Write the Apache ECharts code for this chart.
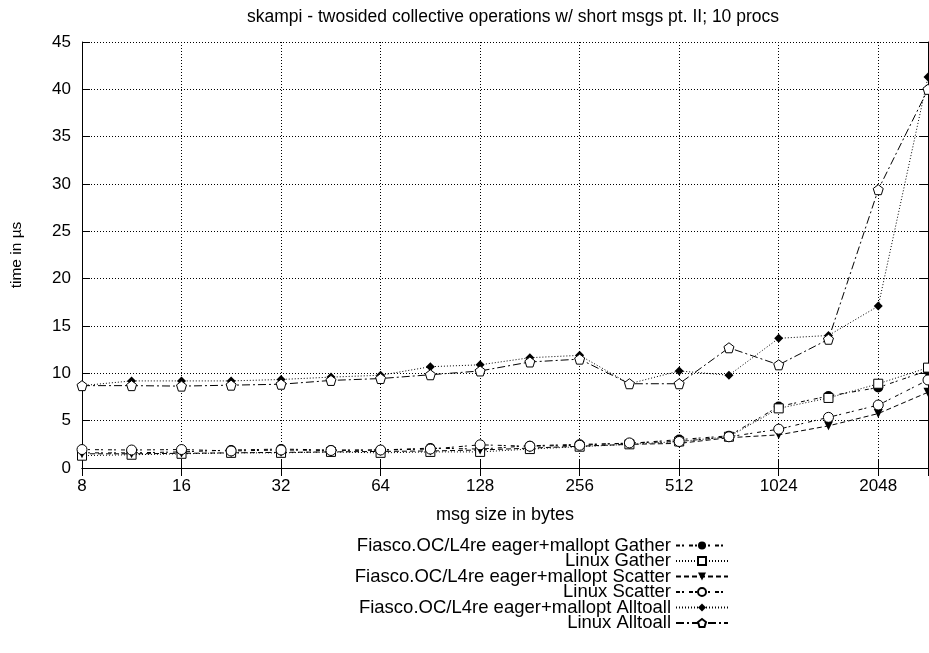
<!DOCTYPE html>
<html>
<head>
<meta charset="utf-8">
<script src="https://cdn.jsdelivr.net/npm/echarts@6/dist/echarts.min.js"></script>
<style>html,body{margin:0;padding:0;background:#fff;}#c{width:929px;height:653px;}</style>
</head>
<body>
<div id="c"></div>
<script>
const sizes = [8, 11.3, 16, 22.6, 32, 45.3, 64, 90.5, 128, 181, 256, 362, 512, 724, 1024, 1448, 2048, 2896];
const yTicks = [0, 5, 10, 15, 20, 25, 30, 35, 40, 45];
const fiascoGather   = [1.6, 1.6, 1.7, 1.9, 2.0, 1.9, 1.9, 2.1, 2.0, 2.35, 2.5, 2.6, 3.0, 3.4, 6.5, 7.6, 8.5, 10.3];
const linuxGather    = [1.3, 1.4, 1.5, 1.6, 1.6, 1.7, 1.6, 1.7, 1.7, 2.0, 2.25, 2.5, 2.8, 3.3, 6.3, 7.4, 8.9, 10.6];
const fiascoScatter  = [1.5, 1.5, 1.55, 1.6, 1.65, 1.7, 1.75, 1.8, 1.9, 2.1, 2.3, 2.5, 2.6, 3.2, 3.5, 4.45, 5.75, 8.0];
const linuxScatter   = [1.95, 1.9, 1.95, 1.8, 1.9, 1.85, 1.9, 2.0, 2.45, 2.3, 2.4, 2.65, 2.8, 3.3, 4.1, 5.35, 6.65, 9.3];
const fiascoAlltoall = [8.7, 9.2, 9.2, 9.2, 9.35, 9.6, 9.8, 10.7, 10.9, 11.65, 11.9, 8.9, 10.25, 9.8, 13.7, 14.0, 17.1, 41.3];
const linuxAlltoall  = [8.7, 8.7, 8.65, 8.75, 8.85, 9.25, 9.45, 9.85, 10.25, 11.2, 11.5, 8.9, 8.9, 12.7, 10.9, 13.6, 29.4, 40.0];
const names = [
  'Fiasco.OC/L4re eager+mallopt Gather',
  'Linux Gather',
  'Fiasco.OC/L4re eager+mallopt Scatter',
  'Linux Scatter',
  'Fiasco.OC/L4re eager+mallopt Alltoall',
  'Linux Alltoall'
];
const FONT = 'Liberation Sans, Arial, Helvetica, sans-serif';
const pentagon = 'path://M0,-1 L0.951,-0.309 L0.588,0.809 L-0.588,0.809 L-0.951,-0.309 Z';

function pairs(vals){ return sizes.map((s,i)=>[s, vals[i]]); }
function mk(name, vals, symbol, size, dash, filled, rotate){
  return {
    name: name, type: 'line', data: pairs(vals), clip: false,
    symbol: symbol, symbolSize: size, symbolRotate: rotate || 0, showSymbol: true,
    lineStyle: {color: '#000', width: 1, type: dash},
    itemStyle: filled ? {color: '#000'} : {color: '#fff', borderColor: '#000', borderWidth: 1},
    emphasis: {disabled: true}, animation: false, z: 3
  };
}

const chart = echarts.init(document.getElementById('c'), null, {renderer: 'canvas'});
const isPow2 = v => Math.abs(Math.log2(v) - Math.round(Math.log2(v))) < 1e-6 && v <= 2048;
const xBase = {
  type: 'log', logBase: 2, min: 8, max: 2896, splitNumber: 5,
  axisLine: {show: true, lineStyle: {color: '#000', width: 1}},
  axisTick: {show: true, inside: true, length: 8, lineStyle: {color: '#000'}}
};
const yBase = {
  type: 'value', min: 0, max: 45, interval: 5,
  axisLine: {show: true, lineStyle: {color: '#000', width: 1}},
  axisTick: {show: true, inside: true, length: 8, lineStyle: {color: '#000'}}
};
chart.setOption({
  backgroundColor: '#fff',
  animation: false,
  title: {
    text: 'skampi - twosided collective operations w/ short msgs pt. II; 10 procs',
    left: 508, top: 3, textAlign: 'center',
    textStyle: {fontFamily: FONT, fontSize: 17.5, fontWeight: 'normal', color: '#000'}
  },
  grid: {left: 82, right: 1, top: 42, bottom: 185, containLabel: false},
  legend: {
    orient: 'vertical', align: 'right', right: 200, top: 536, padding: 0,
    itemWidth: 52, itemHeight: 10, itemGap: -3.5,
    textStyle: {fontFamily: FONT, fontSize: 18.5, color: '#000'},
    data: names
  },
  xAxis: [
    Object.assign({}, xBase, {
      position: 'bottom',
      name: 'msg size in bytes', nameLocation: 'middle', nameGap: 38,
      nameTextStyle: {fontFamily: FONT, fontSize: 18, color: '#000'},
      axisLabel: {show: true, margin: 10, fontFamily: FONT, fontSize: 17, color: '#000',
        formatter: v => isPow2(v) ? String(Math.round(v)) : '', showMaxLabel: false},
      splitLine: {show: true, lineStyle: {color: '#000', width: 1, type: [1, 2]}}
    }),
    Object.assign({}, xBase, {
      position: 'top', axisLabel: {show: false}, splitLine: {show: false}
    })
  ],
  yAxis: [
    Object.assign({}, yBase, {
      position: 'left',
      name: 'time in µs', nameLocation: 'middle', nameGap: 57, nameRotate: 90,
      nameTextStyle: {fontFamily: FONT, fontSize: 15.5, color: '#000'},
      axisLabel: {show: true, margin: 11, fontFamily: FONT, fontSize: 17, color: '#000'},
      splitLine: {show: true, lineStyle: {color: '#000', width: 1, type: [1, 2]}}
    }),
    Object.assign({}, yBase, {
      position: 'right', axisLabel: {show: false}, splitLine: {show: false}
    })
  ],
  series: [
    mk(names[0], fiascoGather, 'circle', 10, [4, 2, 2, 5], true),
    mk(names[1], linuxGather, 'rect', 9, [1, 2], false),
    mk(names[2], fiascoScatter, 'triangle', 9, [5, 3], true, 180),
    mk(names[3], linuxScatter, 'circle', 10, [4, 2, 2, 5], false),
    mk(names[4], fiascoAlltoall, 'diamond', 9, [1, 2], true),
    mk(names[5], linuxAlltoall, pentagon, 10, [8, 3, 2, 3], false)
  ]
});
</script>
</body>
</html>
